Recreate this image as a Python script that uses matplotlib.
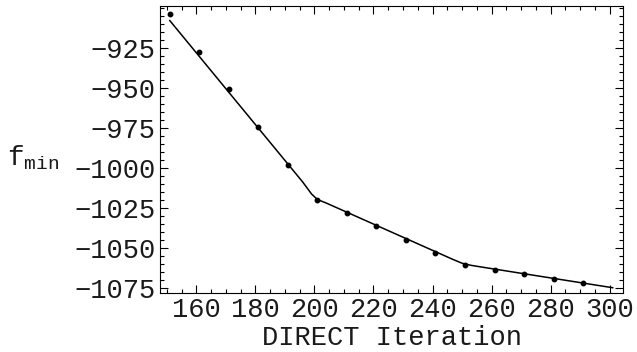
import numpy as np
import matplotlib
matplotlib.use('Agg')
import matplotlib.pyplot as plt
from matplotlib.ticker import MultipleLocator

# Data points
iters = [151, 161, 171, 181, 191, 201, 211, 221, 231, 241, 251, 261, 271, 281, 291]
fmin = [-903.8, -927.1, -950.6, -974.2, -997.7, -1019.6, -1027.9, -1036.3,
        -1044.6, -1052.7, -1060.4, -1063.4, -1066.3, -1069.0, -1071.7]

# Piecewise fit line (knots)
fit_x = [151, 196, 199, 201, 204, 247, 250, 253, 256, 301]
fit_y = [-907.7, -1008.5, -1016.0, -1019.5, -1021.7, -1057.0, -1059.3, -1060.6, -1061.5, -1074.6]

xticks = [160, 180, 200, 220, 240, 260, 280, 300]
yticks = [-1075, -1050, -1025, -1000, -975, -950, -925]

plt.rcParams['font.family'] = 'Liberation Mono'
plt.rcParams['mathtext.fontset'] = 'custom'
plt.rcParams['mathtext.rm'] = 'Liberation Mono'
plt.rcParams['mathtext.it'] = 'Liberation Mono'

fig = plt.figure(figsize=(6.37, 3.52), dpi=100)
ax = fig.add_axes([0.2512, 0.1676, 0.978 - 0.2512, 0.983 - 0.1676])

ax.plot(fit_x, fit_y, color='black', lw=1.1)
ax.plot(iters, fmin, 'o', color='black', ms=3.2)

ax.set_xlim(147.7, 304.5)
ax.set_ylim(-1077.9, -898.6)
ax.set_xticks(xticks)
ax.set_yticks(yticks)
ax.xaxis.set_minor_locator(MultipleLocator(5))
ax.yaxis.set_minor_locator(MultipleLocator(5))
ax.tick_params(which='both', direction='in', top=True, right=True, labelsize=19.5, width=0.8,
               labelcolor='#1a1a1a')
ax.tick_params(which='major', length=6, pad=3)
ax.tick_params(which='minor', length=3)
for s in ax.spines.values():
    s.set_linewidth(0.8)

ax.set_xlabel('DIRECT Iteration', fontsize=19.5, labelpad=1, color='#1a1a1a')
ax.set_ylabel(r'$\mathrm{f}_{\mathrm{min}}$', fontsize=20, rotation=0, va='center', color='#1a1a1a')
ax.yaxis.set_label_coords(-0.275, 0.47)

fig.savefig('out.png', dpi=100)
